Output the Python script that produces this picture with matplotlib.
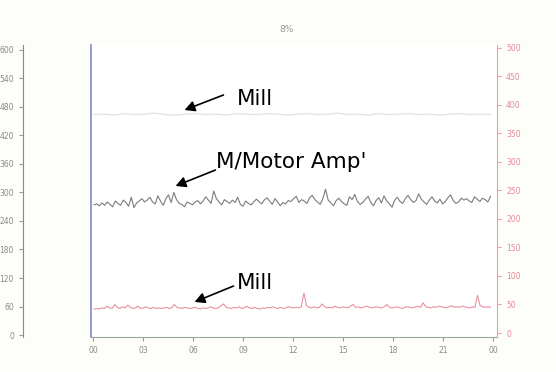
import numpy as np
import matplotlib
matplotlib.use("Agg")
import matplotlib.pyplot as plt
from matplotlib.lines import Line2D

# ---- data ----
x_tick_labels = ["00", "03", "06", "09", "12", "15", "18", "21", "00"]
left_ticks = [0, 60, 120, 180, 240, 300, 360, 420, 480, 540, 600]
right_ticks = [0, 50, 100, 150, 200, 250, 300, 350, 400, 450, 500]

motor_amp = [274, 276, 272, 278, 273, 280, 275, 270, 282, 277, 273, 284, 279, 271, 290, 268, 278, 282, 287, 280,
             284, 290, 280, 276, 293, 282, 273, 287, 295, 279, 300, 285, 277, 275, 270, 280, 277, 274, 280, 283,
             276, 282, 291, 284, 277, 303, 287, 280, 274, 285, 281, 277, 284, 279, 290, 275, 271, 282, 277, 274,
             280, 286, 281, 276, 284, 289, 282, 275, 287, 280, 272, 279, 276, 283, 281, 287, 292, 279, 285, 282,
             277, 289, 294, 285, 280, 275, 287, 307, 284, 278, 272, 283, 288, 281, 276, 273, 291, 285, 296, 281,
             275, 279, 286, 292, 279, 272, 283, 289, 278, 293, 282, 276, 269, 284, 290, 281, 277, 287, 294, 285,
             279, 283, 297, 286, 280, 275, 284, 291, 282, 278, 286, 276, 281, 289, 295, 283, 277, 280, 288, 284,
             287, 282, 279, 291, 286, 281, 288, 285, 280, 292]

mill_low = [42, 43, 42, 44, 43, 47, 44, 43, 50, 45, 43, 46, 44, 49, 45, 43, 44, 47, 43, 44,
            46, 44, 43, 45, 43, 44, 43, 44, 45, 43, 44, 50, 45, 44, 43, 45, 44, 43, 44, 45,
            43, 42, 44, 43, 44, 46, 44, 43, 44, 48, 51, 45, 44, 43, 45, 44, 46, 43, 44, 47,
            44, 43, 45, 43, 42, 44, 43, 45, 44, 46, 44, 43, 45, 43, 44, 46, 45, 44, 45, 44,
            46, 70, 48, 45, 44, 46, 44, 45, 51, 46, 44, 45, 44, 47, 45, 44, 46, 45, 44, 47,
            50, 45, 46, 44, 45, 47, 46, 44, 45, 46, 45, 44, 46, 50, 45, 44, 45, 46, 44, 43,
            45, 46, 45, 44, 46, 47, 45, 53, 46, 45, 44, 46, 45, 47, 46, 45, 44, 46, 48, 45,
            46, 45, 47, 46, 45, 44, 46, 45, 66, 48, 46, 45, 46, 45]

mill_top = [464, 465, 463, 466, 464, 465, 467, 464, 463, 465, 466, 464, 465, 463, 466, 465, 464, 466, 465, 463,
            465, 466, 464, 465, 467, 464, 465, 463, 466, 464, 465, 466, 464, 465, 463, 465, 466, 464, 465, 464]

# ---- figure ----
W, H, DPI = 556, 372, 100
fig = plt.figure(figsize=(W / DPI, H / DPI), dpi=DPI)
fig.patch.set_facecolor("#fdfdf9")

left_px, right_px, top_px, bot_px = 91, 497, 45, 337
ax = fig.add_axes([left_px / W, 1 - bot_px / H, (right_px - left_px) / W, (bot_px - top_px) / H])
ax.set_facecolor("white")

x_motor = np.linspace(0.02, 7.95, len(motor_amp))
x_low = np.linspace(0.02, 7.95, len(mill_low))
x_top = np.linspace(0.02, 7.95, len(mill_top))

ax.plot(x_top, mill_top, color="#dfe7dd", lw=1.0)
ax.plot(x_motor, motor_amp, color="#7c7c7c", lw=0.8)
ax.set_xlim(-0.04, 8.08)
ax.set_ylim(-4.2, 610.5)
ax.set_xticks(range(9))
ax.set_xticklabels(x_tick_labels)
ax.set_yticks(left_ticks)
ax.set_yticklabels([str(v) for v in left_ticks])

ax2 = ax.twinx()
ax2.plot(x_low, mill_low, color="#e891a0", lw=0.8)
ax2.set_ylim(-7, 505)
ax2.set_yticks(right_ticks)
ax2.set_yticklabels([str(v) for v in right_ticks])

# spines and ticks
ax.spines["top"].set_visible(False)
ax2.spines["top"].set_visible(False)
ax2.spines["left"].set_visible(False)
ax.spines["right"].set_visible(False)
ax2.spines["bottom"].set_visible(False)
ax.spines["left"].set_position(("outward", 49))
ax.spines["left"].set_color("#8a8a8a")
ax.spines["bottom"].set_color("#9aa6a6")
ax2.spines["right"].set_color("#e8a0ac")
ax.tick_params(axis="y", colors="#9a9a9a", labelsize=5.5, length=3, labelcolor="#8a8a8a")
ax.tick_params(axis="x", colors="#9a9a9a", labelsize=5.5, length=3, labelcolor="#8a8a8a")
ax2.tick_params(axis="y", colors="#e8a0ac", labelsize=5.5, length=3, labelcolor="#e58a98")

# blue plot-edge line
ax.add_line(Line2D([0, 0], [0, 1], transform=ax.transAxes, color="#8088c8", lw=1.2, clip_on=False))

# title
fig.text(287 / W, 1 - 30 / H, "8%", color="#9a9a9a", fontsize=6.5, ha="center", va="center")

# annotations
font = dict(family=["DejaVu Sans"], fontsize=15.5, color="black")
def ann(txt, head, tail, tpos):
    fig.add_artist(matplotlib.patches.FancyArrowPatch(
        (tail[0] / W, 1 - tail[1] / H), (head[0] / W, 1 - head[1] / H),
        transform=fig.transFigure, arrowstyle="-|>,head_length=6,head_width=3.2",
        color="black", lw=1.2, mutation_scale=1))
    fig.text(tpos[0] / W, 1 - tpos[1] / H, txt, ha="left", va="center", **font)

ann("Mill", (182, 111), (226, 94), (237, 99))
ann("M/Motor Amp'", (173, 187), (218, 169), (216, 162))
ann("Mill", (192, 303), (236, 285), (237, 283))

fig.savefig("out.png", dpi=DPI, facecolor=fig.get_facecolor())
